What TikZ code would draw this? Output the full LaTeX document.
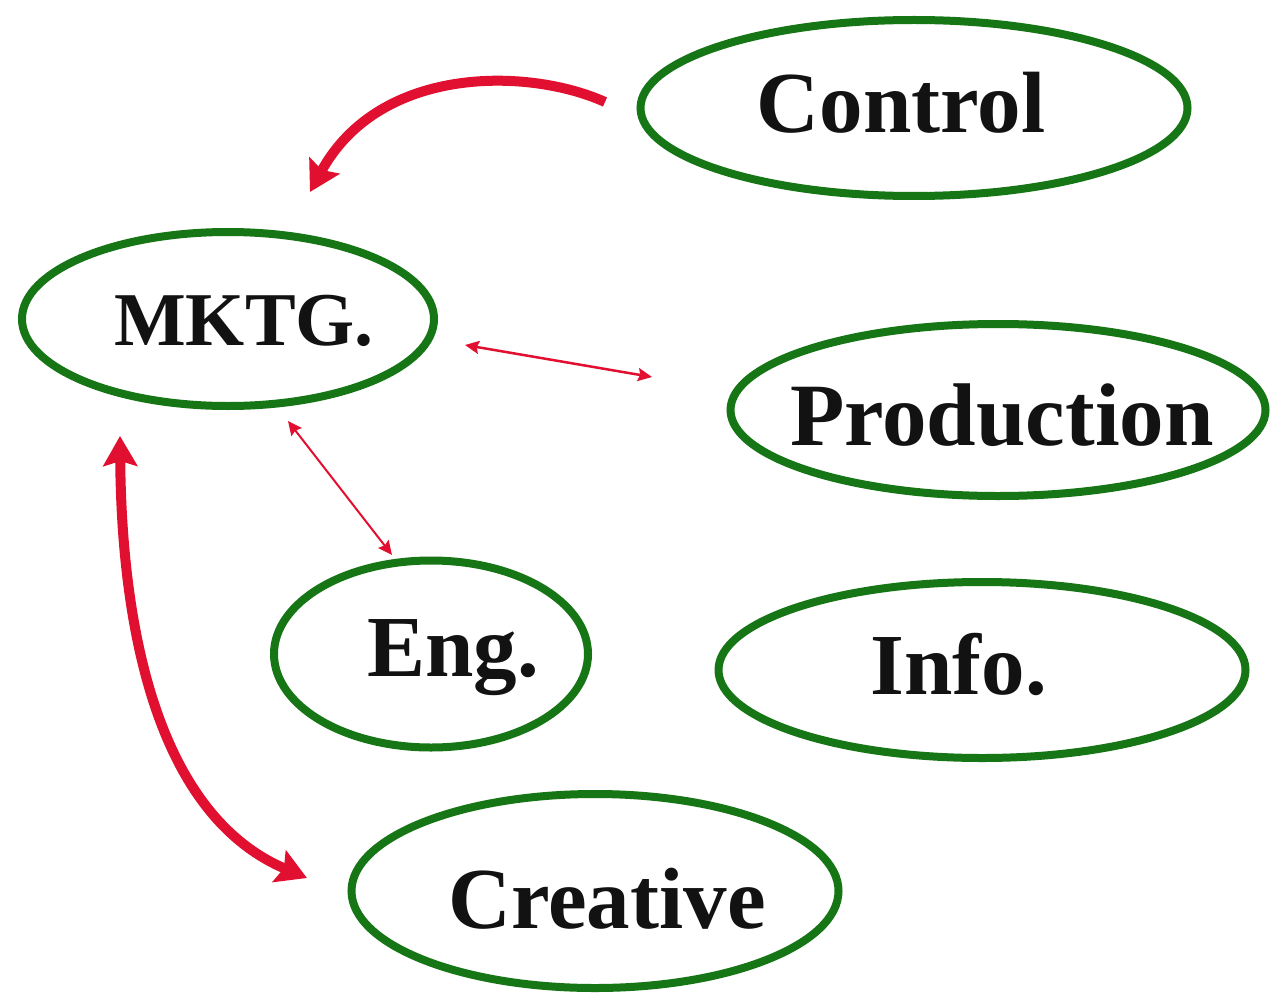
\documentclass[tikz,border=0pt]{standalone}
\usepackage{fontspec}
\setmainfont{Liberation Serif}
\usetikzlibrary{arrows.meta,shapes.geometric}
\definecolor{ovalgreen}{RGB}{22,118,22}
\definecolor{arrowred}{RGB}{226,16,48}
\begin{document}
\begin{tikzpicture}[x=1pt,y=-1pt,
  oval/.style={ellipse, draw=ovalgreen, line width=8pt, inner sep=0pt},
  lbl/.style={anchor=base, inner sep=0pt, text=black!93, font=\fontsize{87}{90}\selectfont\bfseries},
  thick arrow/.style={draw=arrowred, line width=10pt},
  thin arrow/.style={draw=arrowred, line width=2.5pt},
  bigtip/.tip={Stealth[length=30pt,width=34pt,inset=5pt]},
  smalltip/.tip={Stealth[length=14pt,width=13pt,inset=2pt]}]
\useasboundingbox[fill=white] (0,0) rectangle (1273,995);
% ovals
\node[oval, minimum width=547pt, minimum height=176pt] (ctrl) at (914,108) {};
\node[oval, minimum width=412pt, minimum height=174pt] (mktg) at (228,319) {};
\node[oval, minimum width=535pt, minimum height=172pt] (prod) at (998,410) {};
\node[oval, minimum width=314pt, minimum height=187pt] (eng) at (431,654) {};
\node[oval, minimum width=527pt, minimum height=176pt] (info) at (982,670) {};
\node[oval, minimum width=487pt, minimum height=194pt] (crea) at (595,891) {};
% labels
\node[lbl] (tctrl) at (901,133) {Control};
\node[lbl, font=\fontsize{76}{80}\selectfont\bfseries] (tmktg) at (244,345) {MKTG.};
\node[lbl, font=\fontsize{89}{92}\selectfont\bfseries] (tprod) at (1002,445) {Production};
\node[lbl] (teng) at (453,676) {Eng.};
\node[lbl] (tinfo) at (959,694) {Info.};
\node[lbl] (tcrea) at (607,928) {Creative};
% connector end points
\coordinate (c1) at (605,102);
\coordinate (m1) at (310,192);
\coordinate (m2) at (465,345);
\coordinate (p2) at (652,377);
\coordinate (m3) at (288,421);
\coordinate (e3) at (392,555);
\coordinate (m4) at (120,436);
\coordinate (r4) at (307,878);
% connectors
\draw[thick arrow, -{bigtip}] (c1) .. controls (530,68) and (380,64) .. (m1);
\draw[thin arrow, {smalltip}-{smalltip}] (m2) -- (p2);
\draw[thin arrow, line width=2pt, {smalltip}-{smalltip}] (m3) -- (e3);
\draw[thick arrow, {bigtip}-{bigtip}] (m4) .. controls (122,660) and (170,820) .. (r4);
\end{tikzpicture}
\end{document}
